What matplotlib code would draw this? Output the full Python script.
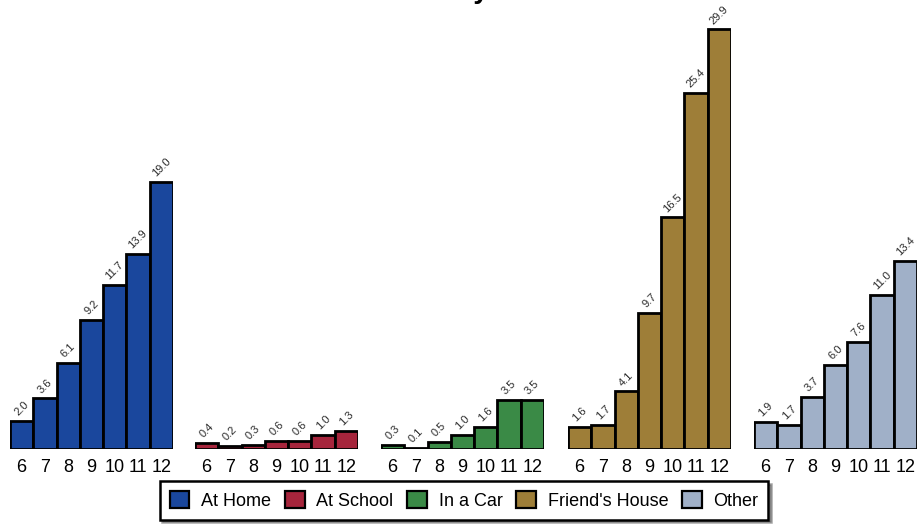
import matplotlib
matplotlib.use("Agg")
import matplotlib.pyplot as plt
from matplotlib.patches import Patch

plt.rcParams['font.family'] = ['Liberation Sans', 'DejaVu Sans']

ages = ["6", "7", "8", "9", "10", "11", "12"]
series_names = ["At Home", "At School", "In a Car", "Friend's House", "Other"]
at_home = [2.0, 3.6, 6.1, 9.2, 11.7, 13.9, 19.0]
at_school = [0.4, 0.2, 0.3, 0.6, 0.6, 1.0, 1.3]
in_a_car = [0.3, 0.1, 0.5, 1.0, 1.6, 3.5, 3.5]
friends_house = [1.6, 1.7, 4.1, 9.7, 16.5, 25.4, 29.9]
other = [1.9, 1.7, 3.7, 6.0, 7.6, 11.0, 13.4]
series_values = [at_home, at_school, in_a_car, friends_house, other]
colors = ["#1A479D", "#A6253C", "#3A8A46", "#9E7E38", "#A0B0C8"]
title = "Location by Grade"

W, H = 920, 527
fig = plt.figure(figsize=(W / 100, H / 100), dpi=100)

lefts = [10, 195, 381, 568, 754]
pw = 163
bottom_px = 449
for i, (vals, col) in enumerate(zip(series_values, colors)):
    ax = fig.add_axes([lefts[i] / W, (H - bottom_px) / H, pw / W, bottom_px / H])
    x = list(range(len(ages)))
    ax.bar(x, vals, width=1.0, color=col, edgecolor="black", linewidth=2.0)
    for xi, v in zip(x, vals):
        ax.text(xi, v + 0.25, f"{v:.1f}", rotation=45, ha="center", va="bottom",
                fontsize=8, color="#2a2a2a")
    ax.set_xlim(-0.5, 6.5)
    ax.set_ylim(0, 32)
    ax.set_xticks(x)
    ax.set_xticklabels(ages, fontsize=13)
    ax.tick_params(axis="x", length=0, pad=7)
    ax.set_yticks([])
    for s in ax.spines.values():
        s.set_visible(False)
    ax.patch.set_visible(False)

# Title sits mostly above the canvas; only the descender of "y" shows (as in the reference)
renderer = fig.canvas.get_renderer()
t_probe = fig.text(0, 0, "Location b", fontsize=20, fontweight="bold")
pre_w = t_probe.get_window_extent(renderer).width
t_probe.remove()
fig.text((473 - pre_w) / W, 1 + 2 / H, title, ha="left", va="baseline",
         fontsize=20, fontweight="bold")

handles = [Patch(facecolor=c, edgecolor="black", linewidth=1.6, label=n)
           for c, n in zip(colors, series_names)]
leg = fig.legend(handles=handles, loc="center", bbox_to_anchor=(464 / W, 1 - 500.5 / H),
                 ncol=5, fontsize=13, frameon=True, fancybox=False, shadow=True,
                 edgecolor="black", framealpha=1, handlelength=1.1, handleheight=1.05,
                 handletextpad=0.65, columnspacing=0.75, borderpad=0.55, borderaxespad=0)
leg.get_frame().set_linewidth(1.8)

fig.savefig("out.png", dpi=100)
